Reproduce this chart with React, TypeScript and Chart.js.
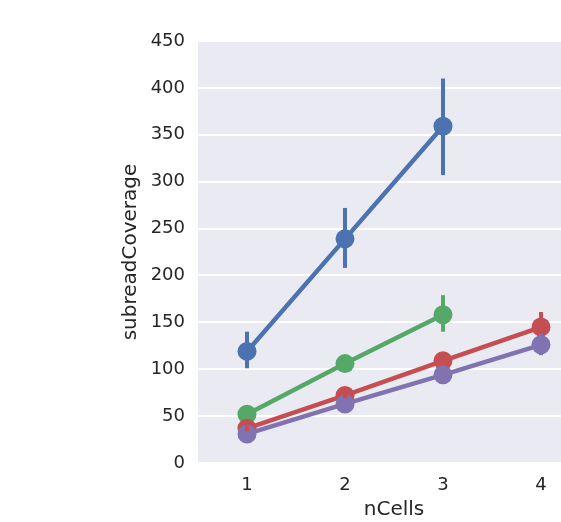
import React, { useEffect, useRef } from "react";
import { Chart, registerables } from "chart.js";

Chart.register(...registerables);

const categories = ["1", "2", "3", "4"];
const seriesNames = ["s1", "s2", "s3", "s4"];
const colors = ["#4C72B0", "#55A868", "#C44E52", "#8172B2"];

const blueValues = [119, 239, 359, null];
const blueLow = [101, 208, 307, null];
const blueHigh = [140, 272, 410, null];

const greenValues = [52, 106, 158, null];
const greenLow = [49, 101, 140, null];
const greenHigh = [56, 111, 179, null];

const redValues = [37, 72, 109, 145];
const redLow = [34, 69, 105, 133];
const redHigh = [40, 75, 113, 161];

const purpleValues = [31, 63, 94, 126];
const purpleLow = [28, 60, 91, 115];
const purpleHigh = [34, 66, 97, 138];

const yTicks = [0, 50, 100, 150, 200, 250, 300, 350, 400, 450];

const allValues = [blueValues, greenValues, redValues, purpleValues];
const allLow = [blueLow, greenLow, redLow, purpleLow];
const allHigh = [blueHigh, greenHigh, redHigh, purpleHigh];

const FONT = "'DejaVu Sans', sans-serif";
const TEXT = "#262626";

const bgPlugin = {
  id: "bgPlugin",
  beforeDraw(chart: any) {
    const { ctx, chartArea } = chart;
    ctx.save();
    ctx.fillStyle = "#EAEAF2";
    ctx.fillRect(chartArea.left, chartArea.top, chartArea.right - chartArea.left, chartArea.bottom - chartArea.top);
    ctx.restore();
  },
};

const errPlugin = {
  id: "errPlugin",
  afterDatasetsDraw(chart: any) {
    const { ctx } = chart;
    const xs = chart.scales.x;
    const ys = chart.scales.y;
    ctx.save();
    ctx.lineWidth = 4;
    ctx.lineCap = "butt";
    for (let s = 0; s < allValues.length; s++) {
      ctx.strokeStyle = colors[s];
      for (let i = 0; i < categories.length; i++) {
        const lo = allLow[s][i];
        const hi = allHigh[s][i];
        if (lo == null || hi == null) continue;
        const x = xs.getPixelForValue(i);
        ctx.beginPath();
        ctx.moveTo(x, ys.getPixelForValue(lo));
        ctx.lineTo(x, ys.getPixelForValue(hi));
        ctx.stroke();
      }
    }
    ctx.restore();
  },
};

export default function App() {
  const ref = useRef<HTMLCanvasElement>(null);
  useEffect(() => {
    if (!ref.current) return;
    const chart = new Chart(ref.current, {
      type: "line",
      data: {
        labels: categories,
        datasets: allValues.map((vals, s) => ({
          label: seriesNames[s],
          data: vals,
          borderColor: colors[s],
          backgroundColor: colors[s],
          pointBackgroundColor: colors[s],
          pointBorderWidth: 0,
          pointRadius: 9.5,
          borderWidth: 4.5,
          tension: 0,
          fill: false,
          order: 3 - s,
        })),
      },
      options: {
        animation: false,
        responsive: false,
        devicePixelRatio: 1,
        layout: { padding: { left: 0, top: 41, right: 10, bottom: 0 } },
        plugins: { legend: { display: false }, tooltip: { enabled: false } },
        scales: {
          x: {
            type: "category",
            offset: true,
            grid: { display: false, drawTicks: false },
            border: { display: false },
            ticks: { color: TEXT, font: { family: FONT, size: 18 }, padding: 12 },
            title: { display: true, text: "nCells", color: TEXT, font: { family: FONT, size: 20 }, padding: { top: 0, bottom: 0 } },
            afterFit(scale: any) { scale.height = 59; },
          },
          y: {
            min: 0,
            max: 450,
            afterBuildTicks(scale: any) { scale.ticks = yTicks.map((v) => ({ value: v })); },
            grid: { color: "#FFFFFF", lineWidth: 2, drawTicks: false },
            border: { display: false },
            ticks: { color: TEXT, font: { family: FONT, size: 18 }, padding: 13 },
            title: { display: true, text: "subreadCoverage", color: TEXT, font: { family: FONT, size: 20 }, padding: { top: 119, bottom: 0 } },
            afterFit(scale: any) { scale.width = 198; },
          },
        },
      },
      plugins: [bgPlugin, errPlugin],
    } as any);
    return () => chart.destroy();
  }, []);
  return (
    <div style={{ position: "fixed", left: 0, top: 0, width: 561, height: 522, overflow: "hidden", background: "#fff" }}>
      <div style={{ width: 600, height: 522 }}>
        <canvas ref={ref} width={600} height={522} style={{ display: "block" }} />
      </div>
    </div>
  );
}
